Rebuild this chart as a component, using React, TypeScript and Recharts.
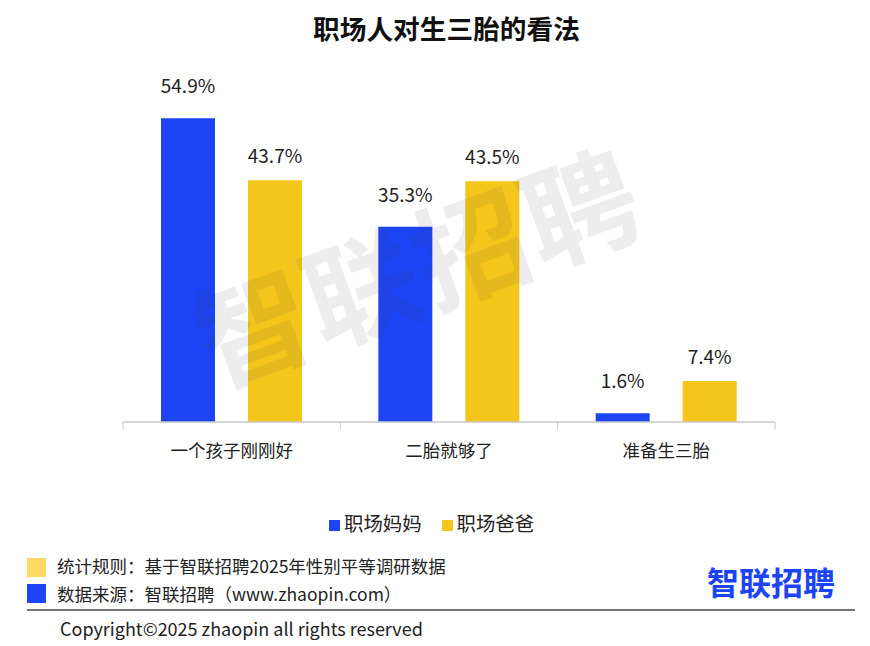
import { BarChart, Bar, XAxis, YAxis, Legend, LabelList } from 'recharts';

const categories = ['一个孩子刚刚好', '二胎就够了', '准备生三胎'];
const momValues = [54.9, 35.3, 1.6];
const dadValues = [43.7, 43.5, 7.4];
const rows = categories.map((name, i) => ({ name, mom: momValues[i], dad: dadValues[i] }));

const FONT = '"Noto Sans CJK SC", "Noto Sans", sans-serif';
const BLUE = '#1C44F5';
const YELLOW = '#F4C61B';
const AXIS = '#c9c9c9';
const INK = '#222';
const PLOT_LEFT = 123;
const PLOT_RIGHT = 775;
const BAND = (PLOT_RIGHT - PLOT_LEFT) / categories.length;

function CategoryTick({ x, y, payload, index }: any) {
  return (
    <g>
      <line x1={x - BAND / 2} x2={x - BAND / 2} y1={y - 8} y2={y - 1} stroke={AXIS} />
      {index === categories.length - 1 && (
        <line x1={x + BAND / 2} x2={x + BAND / 2} y1={y - 8} y2={y - 1} stroke={AXIS} />
      )}
      <text x={x} y={y + 27} textAnchor="middle" fontSize={17.5} fill={INK} fontFamily={FONT}>
        {payload.value}
      </text>
    </g>
  );
}

function pct(v: any) {
  return `${v}%`;
}

function Abs({ left, top, style, children }: any) {
  return (
    <div style={{ position: 'absolute', left, top, whiteSpace: 'nowrap', fontFamily: FONT, color: INK, ...style }}>
      {children}
    </div>
  );
}

export default function App() {
  return (
    <div style={{ position: 'absolute', left: 0, top: 0, width: 870, height: 646, background: '#fff', overflow: 'hidden' }}>
      <Abs left={0} top={9} style={{ width: 893, textAlign: 'center', fontSize: 26.7, fontWeight: 700, color: '#111', lineHeight: '38px' }}>
        职场人对生三胎的看法
      </Abs>

      <BarChart
        width={870}
        height={646}
        data={rows}
        margin={{ top: 61, right: 870 - PLOT_RIGHT, bottom: 164, left: PLOT_LEFT }}
        barSize={54}
        barGap={33}
      >
        <XAxis dataKey="name" axisLine={{ stroke: AXIS, strokeWidth: 1.5 }} tickLine={false} tick={<CategoryTick />} interval={0} height={60} />
        <YAxis hide domain={[0, 60]} />
        <Legend
          verticalAlign="top"
          align="left"
          iconType="square"
          iconSize={11}
          wrapperStyle={{ position: 'absolute', left: 329, top: 508, width: 240, fontFamily: FONT, fontSize: 19.4 }}
          formatter={(value) => <span style={{ color: INK, marginRight: 10 }}>{value}</span>}
        />
        <Bar dataKey="mom" name="职场妈妈" fill={BLUE} isAnimationActive={false}>
          <LabelList dataKey="mom" position="top" offset={25} formatter={pct} fontSize={19} fill={INK} fontFamily={FONT} />
        </Bar>
        <Bar dataKey="dad" name="职场爸爸" fill={YELLOW} isAnimationActive={false}>
          <LabelList dataKey="dad" position="top" offset={17} formatter={pct} fontSize={19} fill={INK} fontFamily={FONT} />
        </Bar>
      </BarChart>

      <Abs
        left={415}
        top={262}
        style={{
          transform: 'translate(-50%, -50%) rotate(-20deg)',
          fontSize: 114,
          fontWeight: 700,
          letterSpacing: 2,
          color: 'rgba(60,60,60,0.09)',
          pointerEvents: 'none',
        }}
      >
        智联招聘
      </Abs>

      <div style={{ position: 'absolute', left: 27, top: 558, width: 19, height: 19, background: '#FFD966' }} />
      <div style={{ position: 'absolute', left: 27, top: 584, width: 19, height: 19, background: BLUE }} />
      <Abs left={57} top={553} style={{ fontSize: 17.5, lineHeight: '26px' }}>{'统计规则\uFF1A基于智联招聘2025年性别平等调研数据'}</Abs>
      <Abs left={57} top={581} style={{ fontSize: 17.5, lineHeight: '26px' }}>{'数据来源\uFF1A智联招聘\uFF08www.zhaopin.com\uFF09'}</Abs>
      <Abs left={707} top={558} style={{ fontSize: 32, fontWeight: 700, color: BLUE, lineHeight: '46px' }}>智联招聘</Abs>
      <div style={{ position: 'absolute', left: 27, top: 609, width: 828, height: 2, background: '#777' }} />
      <Abs left={60} top={615} style={{ fontSize: 18, lineHeight: '26px' }}>Copyright©2025 zhaopin all rights reserved</Abs>
    </div>
  );
}
